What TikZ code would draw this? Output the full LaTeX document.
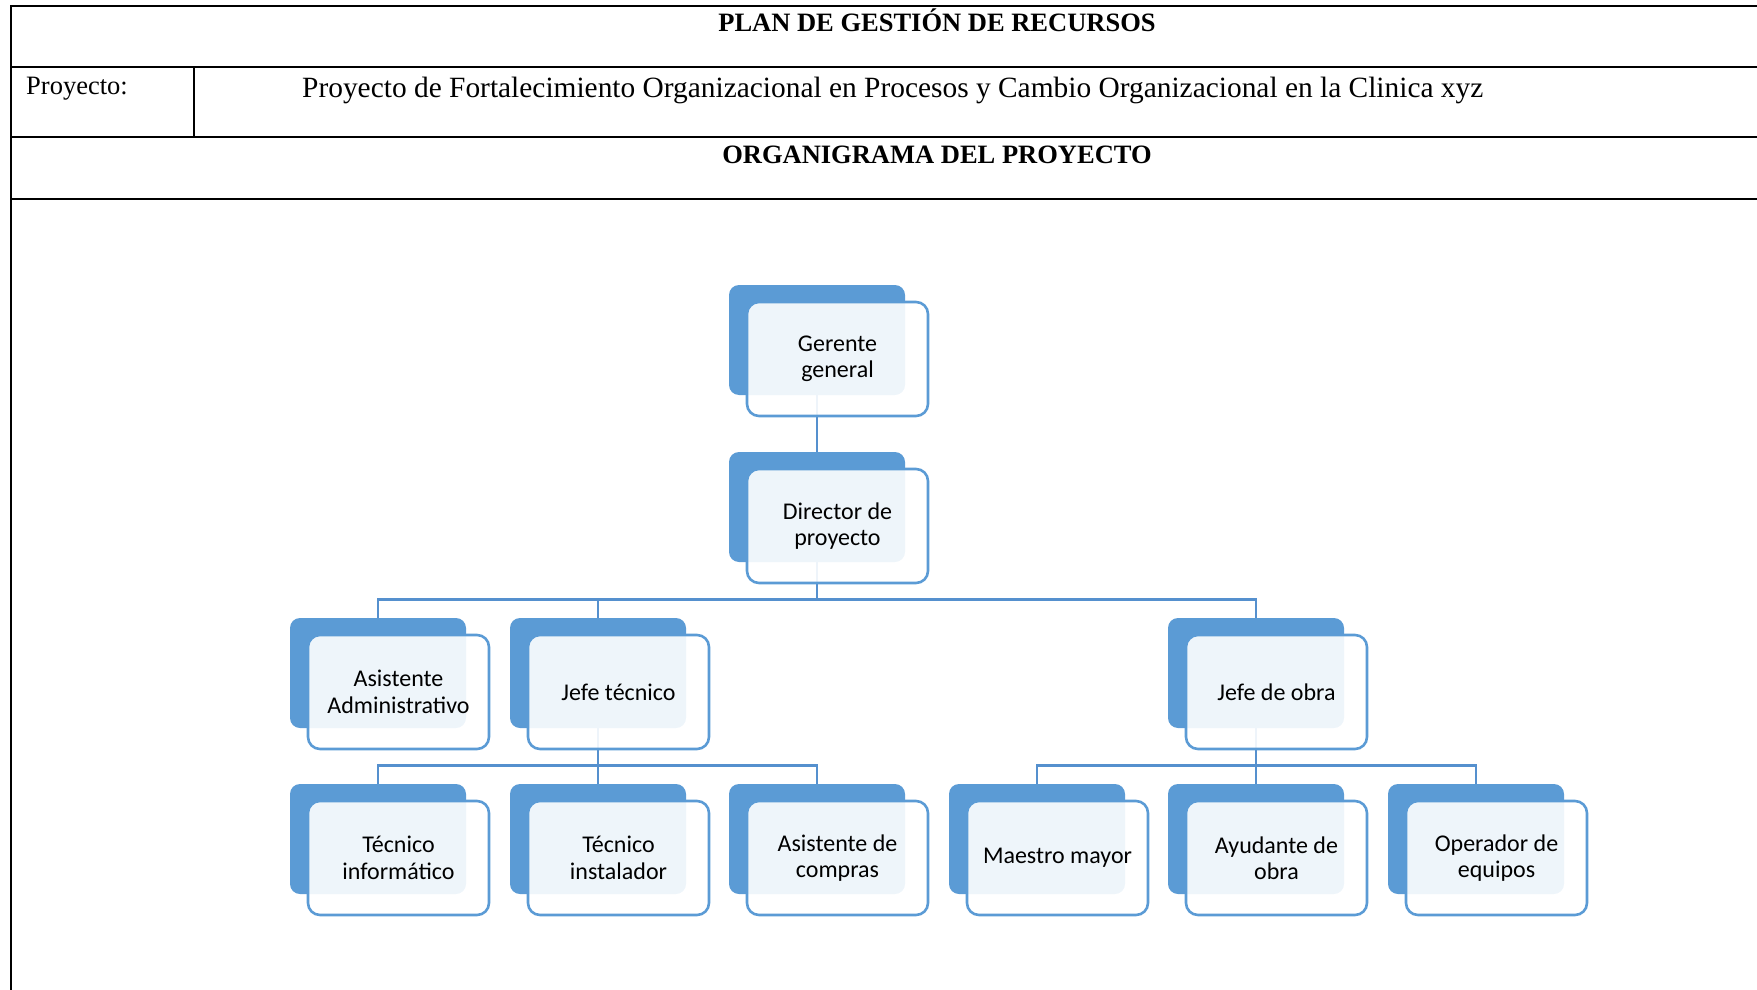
\documentclass[tikz,border=0pt]{standalone}
\usepackage{fontspec}
\setmainfont{Liberation Serif}
\newfontfamily\nodefont{Carlito}
\usetikzlibrary{calc}
\definecolor{accblue}{HTML}{5B9BD5}
\definecolor{lineblue}{HTML}{5590CE}
\begin{document}
\begin{tikzpicture}[x=1pt,y=-1pt,
  tabline/.style={line width=2pt,black},
  hdrtext/.style={font=\fontsize{26.5}{30}\selectfont\bfseries,anchor=base,inner sep=0pt},
  celltext/.style={font=\fontsize{26.5}{30}\selectfont,anchor=base west,inner sep=0pt},
  backbox/.style={rectangle,rounded corners=10pt,fill=accblue,minimum width=176pt,minimum height=110pt,inner sep=0pt},
  frontbox/.style={rectangle,rounded corners=12pt,draw=accblue,line width=2.6pt,fill=white,fill opacity=0.9,text opacity=1,minimum width=181pt,minimum height=114pt,inner sep=0pt,align=center,font=\nodefont\fontsize{24}{26.5}\selectfont},
  conn/.style={draw=lineblue,line width=2.6pt}
]
\useasboundingbox (0,0) rectangle (1757,990);
% ---- table ----
\draw[tabline] (1757,6) -- (11,6) -- (11,990);
\draw[tabline] (11,67) -- (1757,67);
\draw[tabline] (11,137) -- (1757,137);
\draw[tabline] (11,199) -- (1757,199);
\draw[tabline] (194,67) -- (194,137);
\node[hdrtext] (title) at (937,31.5) {PLAN DE GESTIÓN DE RECURSOS};
\node[celltext] (plabel) at (26,95) {Proyecto:};
\node[celltext,font=\fontsize{29.4}{33}\selectfont] (pname) at (302,97.5) {Proyecto de Fortalecimiento Organizacional en Procesos y Cambio Organizacional en la Clinica xyz};
\node[hdrtext] (orgt) at (937,163) {ORGANIGRAMA DEL PROYECTO};
% ---- back boxes ----
\def\colA{378}\def\colB{598}\def\colC{817}\def\colD{1037}\def\colE{1256}\def\colF{1476}
\node[backbox] (gerB) at (\colC,340) {};
\node[backbox] (dirB) at (\colC,507) {};
\node[backbox] (asaB) at (\colA,673) {};
\node[backbox] (jteB) at (\colB,673) {};
\node[backbox] (jobB) at (\colE,673) {};
\node[backbox] (tinB) at (\colA,839) {};
\node[backbox] (tisB) at (\colB,839) {};
\node[backbox] (ascB) at (\colC,839) {};
\node[backbox] (mmaB) at (\colD,839) {};
\node[backbox] (ayoB) at (\colE,839) {};
\node[backbox] (opeB) at (\colF,839) {};
% ---- connectors ----
\draw[conn] (gerB.south) -- (dirB.north);
\foreach \c in {asaB,jteB,jobB}{\draw[conn] (dirB.south) -- ++(0,37) -| (\c.north);}
\foreach \c in {tinB,tisB,ascB}{\draw[conn] (jteB.south) -- ++(0,37) -| (\c.north);}
\foreach \c in {mmaB,ayoB,opeB}{\draw[conn] (jobB.south) -- ++(0,37) -| (\c.north);}
% ---- front boxes ----
\node[frontbox] (ger) at ($(gerB.center)+(20.5,19)$) {Gerente\\general};
\node[frontbox] (dir) at ($(dirB.center)+(20.5,19)$) {Director de\\proyecto};
\node[frontbox] (asa) at ($(asaB.center)+(20.5,19)$) {Asistente\\Administrativo};
\node[frontbox] (jte) at ($(jteB.center)+(20.5,19)$) {Jefe técnico};
\node[frontbox] (job) at ($(jobB.center)+(20.5,19)$) {Jefe de obra};
\node[frontbox] (tin) at ($(tinB.center)+(20.5,19)$) {Técnico\\informático};
\node[frontbox] (tis) at ($(tisB.center)+(20.5,19)$) {Técnico\\instalador};
\node[frontbox] (asc) at ($(ascB.center)+(20.5,19)$) {Asistente de\\compras};
\node[frontbox] (mma) at ($(mmaB.center)+(20.5,19)$) {Maestro mayor};
\node[frontbox] (ayo) at ($(ayoB.center)+(20.5,19)$) {Ayudante de\\obra};
\node[frontbox] (ope) at ($(opeB.center)+(20.5,19)$) {Operador de\\equipos};
\end{tikzpicture}
\end{document}
